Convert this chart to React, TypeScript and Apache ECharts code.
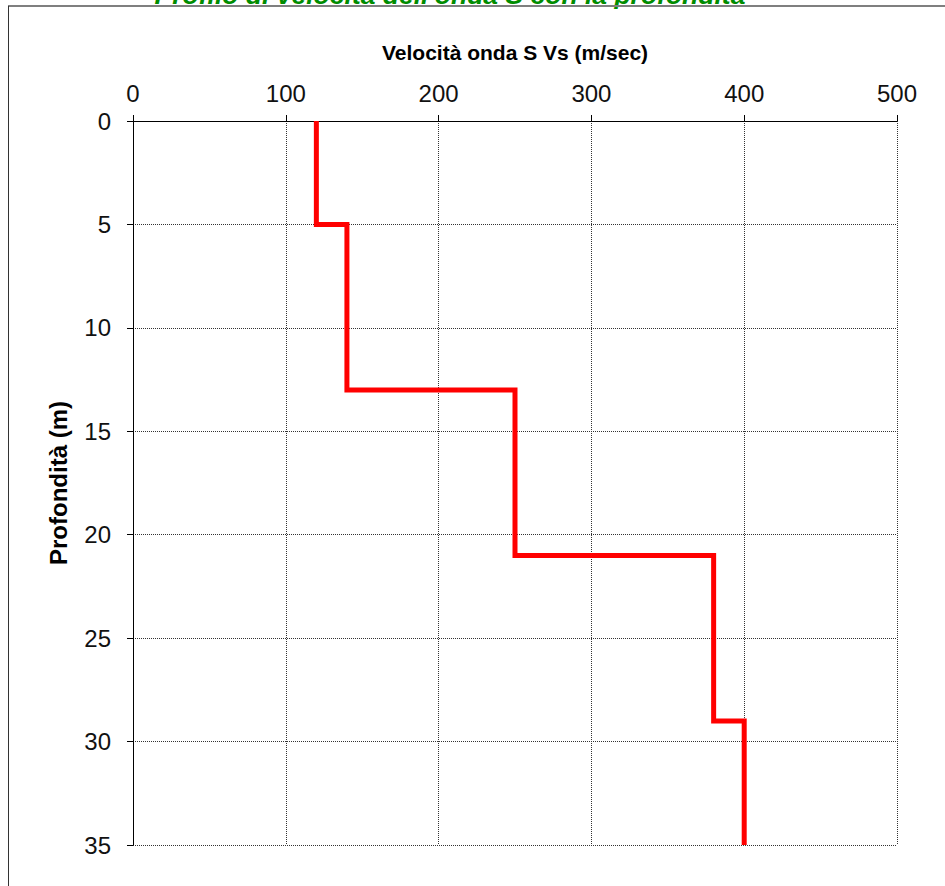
import React, { useEffect, useRef } from "react";
import * as echarts from "echarts";

const layerTop = [0, 5, 13, 21, 29];
const layerBottom = [5, 13, 21, 29, 35];
const vsValues = [120, 140, 250, 380, 400];

const xTicks = [0, 100, 200, 300, 400, 500];
const yTicks = [0, 5, 10, 15, 20, 25, 30, 35];

const titleText = "Profilo di velocità dell'onda S con la profondità";
const xName = "Velocità onda S Vs (m/sec)";
const yName = "Profondità (m)";

export default function App() {
  const ref = useRef<HTMLDivElement>(null);
  useEffect(() => {
    if (!ref.current) return;
    const chart = echarts.init(ref.current, null, { renderer: "svg" });
    const points: number[][] = [];
    for (let i = 0; i < vsValues.length; i++) {
      points.push([vsValues[i], layerTop[i]]);
      points.push([vsValues[i], layerBottom[i]]);
    }
    const font = "Arial";
    chart.setOption({
      animation: false,
      backgroundColor: "#fff",
      textStyle: { fontFamily: font },
      grid: { left: 133, right: 48, top: 121, bottom: 41, containLabel: false },
      graphic: [
        {
          type: "line",
          shape: { x1: 8, y1: 6, x2: 945, y2: 6 },
          style: { stroke: "#7f7f7f", lineWidth: 2 },
          z: 10,
        },
        {
          type: "line",
          shape: { x1: 8.5, y1: 6, x2: 8.5, y2: 886 },
          style: { stroke: "#333", lineWidth: 1 },
          z: 10,
        },
        {
          type: "text",
          x: 450,
          y: -5.5,
          style: {
            text: titleText,
            fill: "#008c00",
            fontFamily: font,
            fontSize: 26.5,
            fontStyle: "italic",
            fontWeight: "bold",
            align: "center",
            verticalAlign: "middle",
          },
          z: 5,
        },
      ],
      xAxis: {
        type: "value",
        position: "top",
        min: xTicks[0],
        max: xTicks[xTicks.length - 1],
        interval: 100,
        name: xName,
        nameLocation: "middle",
        nameGap: 58,
        nameTextStyle: { fontSize: 21, fontWeight: "bold", color: "#000", fontFamily: font },
        axisLine: { show: true, lineStyle: { color: "#000", width: 1 } },
        axisTick: { show: true, length: 6, lineStyle: { color: "#000" } },
        axisLabel: { fontSize: 24, color: "#111", margin: 16, fontFamily: font },
        splitLine: { show: true, lineStyle: { type: "dotted", color: "#333", width: 1 } },
      },
      yAxis: {
        type: "value",
        inverse: true,
        min: yTicks[0],
        max: yTicks[yTicks.length - 1],
        interval: 5,
        name: yName,
        nameLocation: "middle",
        nameGap: 63,
        nameRotate: 90,
        nameTextStyle: { fontSize: 24, fontWeight: "bold", color: "#000", fontFamily: font },
        axisLine: { show: true, lineStyle: { color: "#000", width: 1 } },
        axisTick: { show: true, length: 6, lineStyle: { color: "#000" } },
        axisLabel: { fontSize: 24, color: "#111", margin: 22, fontFamily: font },
        splitLine: { show: true, lineStyle: { type: "dotted", color: "#333", width: 1 } },
      },
      series: [
        {
          type: "line",
          data: points,
          showSymbol: false,
          symbol: "none",
          lineStyle: { color: "#ff0000", width: 5, join: "miter" },
          z: 5,
        },
      ],
    });
    return () => chart.dispose();
  }, []);
  return (
    <div
      ref={ref}
      style={{ position: "fixed", left: 0, top: 0, width: 945, height: 886, background: "#fff" }}
    />
  );
}
